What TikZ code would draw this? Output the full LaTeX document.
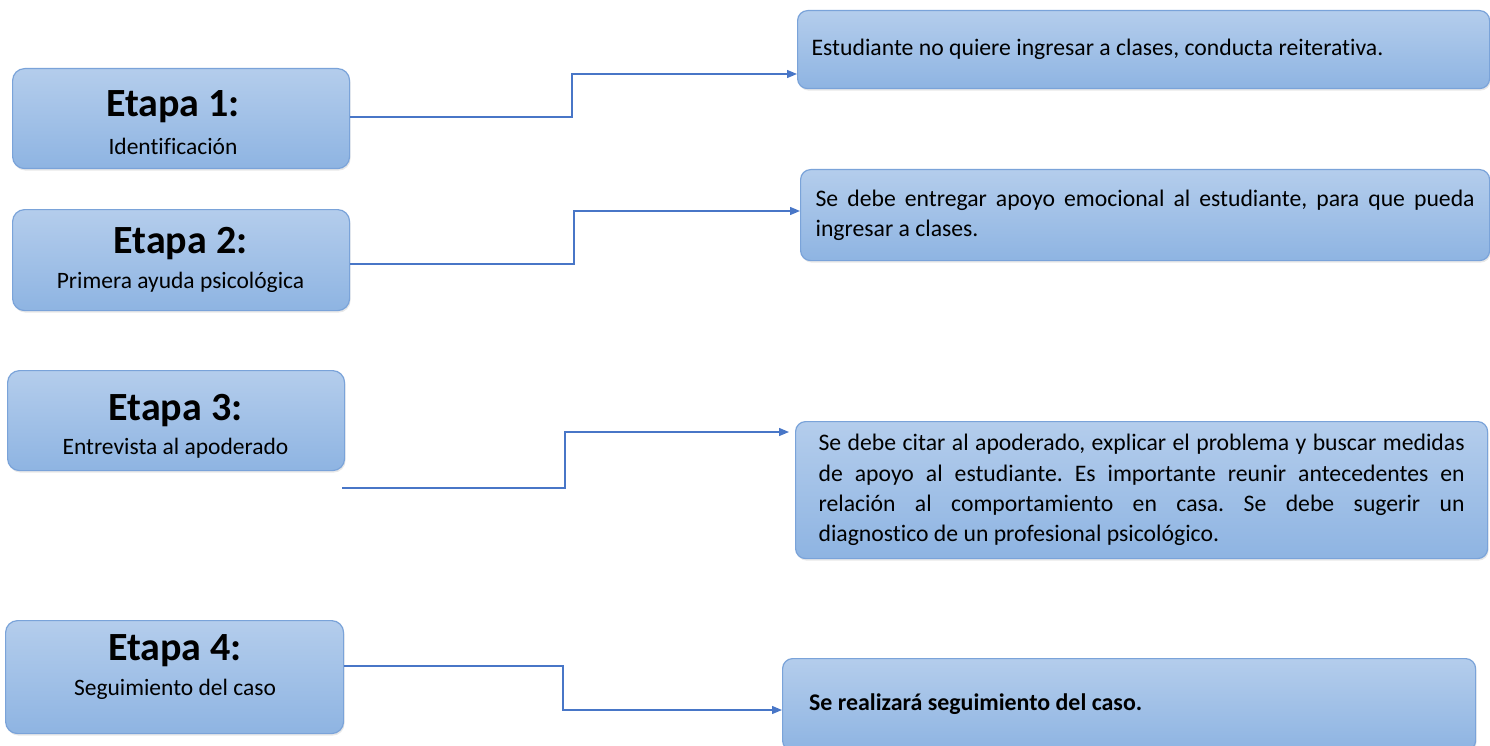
\documentclass[tikz,border=0pt]{standalone}
\usepackage{fontspec}
\setmainfont[Ligatures=NoCommon]{Carlito}
\usetikzlibrary{arrows.meta,shadows}
\definecolor{topc}{RGB}{180,205,236}
\definecolor{botc}{RGB}{142,180,226}
\definecolor{edgec}{RGB}{122,163,217}
\definecolor{linec}{RGB}{72,118,199}
\frenchspacing
\begin{document}
\begin{tikzpicture}[x=1pt,y=1pt,
  stagebox/.style={rectangle, rounded corners=12pt, top color=topc, bottom color=botc,
    draw=edgec, line width=1.2pt, inner sep=0pt, anchor=north west,
    drop shadow={opacity=0.18, shadow xshift=1pt, shadow yshift=-2pt}},
  infobox/.style={stagebox, rounded corners=10pt, align=justify, inner xsep=14pt},
  stagetitle/.style={anchor=base, font=\fontsize{40}{48}\selectfont\bfseries, inner sep=0pt},
  stagesub/.style={anchor=base, font=\fontsize{23.5}{28}\selectfont, inner sep=0pt},
  infotext/.style={font=\fontsize{23.7}{30.3}\selectfont},
  link/.style={draw=linec, line width=1.3pt, -{Triangle[length=10pt,width=8pt]}}
]
\useasboundingbox (0,0) rectangle (1490,-746);

% left stage boxes
\node[stagebox, minimum width=337, minimum height=100] (b1) at (12,-68) {};
\node[stagebox, minimum width=337, minimum height=101] (b2) at (12,-209) {};
\node[stagebox, minimum width=337, minimum height=100] (b3) at (7,-370) {};
\node[stagebox, minimum width=338, minimum height=113] (b4) at (5,-620) {};

\node[stagetitle] (t1) at (173,-117) {Etapa 1:};
\node[stagesub]   (s1) at (173,-155) {Identificación};
\node[stagetitle] (t2) at (180.5,-253) {Etapa 2:};
\node[stagesub]   (s2) at (180.5,-288) {Primera ayuda psicológica};
\node[stagetitle] (t3) at (175.5,-420) {Etapa 3:};
\node[stagesub]   (s3) at (175.5,-454) {Entrevista al apoderado};
\node[stagetitle] (t4) at (175,-660) {Etapa 4:};
\node[stagesub]   (s4) at (175,-695) {Seguimiento del caso};

% right info boxes
\node[infobox, infotext, minimum width=692, minimum height=78, text width=664, align=flush left] (r1) at (797,-10)
  {Estudiante no quiere ingresar a clases, conducta reiterativa.};
\node[infobox, infotext, minimum width=689, minimum height=91, text width=659] (r2) at (800,-169)
  {Se debe entregar apoyo emocional al estudiante, para que pueda\linebreak ingresar a clases.};
\node[infobox, infotext, minimum width=692, minimum height=137, text width=646] (r3) at (795,-421)
  {Se debe citar al apoderado, explicar el problema y buscar medidas\linebreak
   de apoyo al estudiante. Es importante reunir antecedentes en\linebreak
   relación al comportamiento en casa. Se debe sugerir un\linebreak
   diagnostico de un profesional psicológico.};
\node[infobox, minimum width=693, minimum height=92, text width=664, inner xsep=0pt, align=flush left,
  font=\fontsize{23.9}{28}\selectfont\bfseries] (r4) at (782,-658)
  {\hspace*{12pt}Se realizará seguimiento del caso.};

% connectors
\coordinate (c3) at (342,-488);
\draw[link] (b1.east |- 0,-117) -- (572,-117) -- (572,-74) -- (r1.west |- 0,-74);
\draw[link] (b2.east |- 0,-264) -- (574,-264) -- (574,-211) -- (r2.west |- 0,-211);
\draw[link] (c3) -- (565,-488) -- (565,-432) -- ([xshift=-6pt]r3.west |- 0,-432);
\draw[link] (b4.east |- 0,-666) -- (563,-666) -- (563,-710) -- (r4.west |- 0,-710);
\end{tikzpicture}
\end{document}
